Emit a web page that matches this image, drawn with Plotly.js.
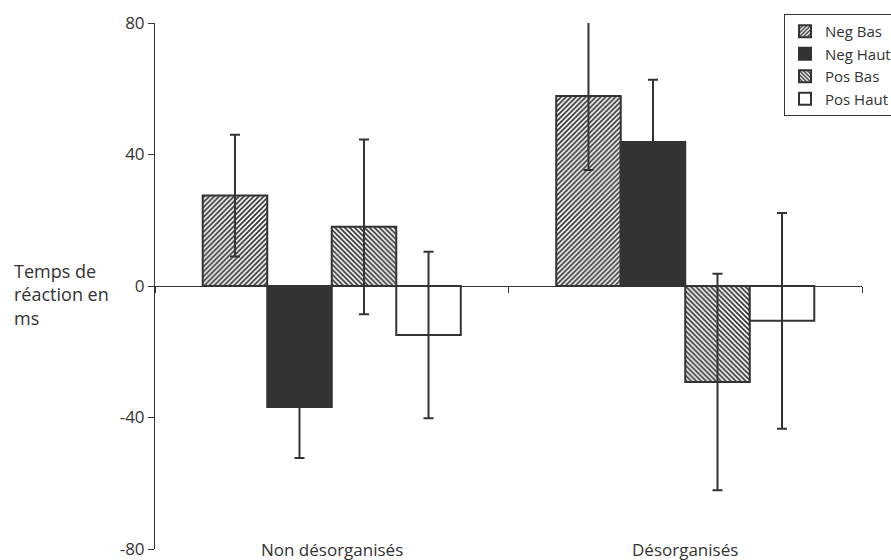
<!DOCTYPE html>
<html>
<head>
<meta charset="utf-8">
<script src="https://cdn.plot.ly/plotly-3.0.1.min.js"></script>
<style>html,body{margin:0;padding:0;background:#fff}#chart{width:891px;height:560px}</style>
</head>
<body>
<div id="chart"></div>
<script>
const categories = ["Non désorganisés", "Désorganisés"];
const seriesNames = ["Neg Bas", "Neg Haut", "Pos Bas", "Pos Haut"];
const negBas = [27.5, 57.8];
const negBasErr = [18.5, 22.5];
const negHaut = [-36.8, 43.8];
const negHautErr = [15.5, 18.9];
const posBas = [18.0, -29.2];
const posBasErr = [26.6, 32.9];
const posHaut = [-14.9, -10.6];
const posHautErr = [25.3, 32.8];
const yTicks = [-80, -40, 0, 40, 80];
const yTitle = "Temps de<br>réaction en<br>ms";

const dark = "#333333";
const values = [negBas, negHaut, posBas, posHaut];
const errs = [negBasErr, negHautErr, posBasErr, posHautErr];
const markers = [
  {color: "#ffffff", pattern: {shape: "/", fgcolor: dark, bgcolor: "#ffffff", size: 3.5, solidity: 0.5}},
  {color: dark},
  {color: "#ffffff", pattern: {shape: "\\", fgcolor: dark, bgcolor: "#ffffff", size: 3.5, solidity: 0.5}},
  {color: "#ffffff"}
];

const data = seriesNames.map((name, i) => ({
  type: "bar",
  name: name,
  x: categories,
  y: values[i],
  marker: Object.assign({line: {color: dark, width: 2}}, markers[i]),
  error_y: {type: "data", array: errs[i], visible: true, color: dark, thickness: 2, width: 5}
}));

const layout = {
  width: 891, height: 560,
  margin: {l: 155, r: 29, t: 23, b: 11, autoexpand: false},
  paper_bgcolor: "#ffffff", plot_bgcolor: "#ffffff",
  font: {family: "Open Sans, sans-serif", color: dark},
  barmode: "group", bargap: 0.27, bargroupgap: 0,
  showlegend: true,
  legend: {
    x: 0.8897, y: 1.017, xanchor: "left", yanchor: "top",
    bordercolor: dark, borderwidth: 1, bgcolor: "#ffffff",
    font: {size: 15, color: dark}, tracegroupgap: 0, itemwidth: 30
  },
  xaxis: {
    type: "category", categoryarray: categories, range: [-0.5, 1.5],
    anchor: "free", position: 0.5,
    showline: true, linecolor: dark, linewidth: 1,
    ticks: "outside", tickson: "boundaries", ticklen: 6, tickcolor: dark,
    showticklabels: false, showgrid: false, zeroline: false
  },
  yaxis: {
    range: [-80, 80], tickvals: yTicks, ticktext: yTicks.map(String),
    showline: true, linecolor: dark, linewidth: 1,
    ticks: "outside", ticklen: 6, tickcolor: dark,
    tickfont: {size: 17, color: dark},
    showgrid: false, zeroline: false
  },
  annotations: categories.map(c => ({
    x: c, xref: "x", y: yTicks[0], yref: "y", yanchor: "middle",
    text: c, showarrow: false, font: {size: 17, color: dark}
  })).concat([{
    x: -0.2023, xref: "paper", xanchor: "left", y: 0, yref: "y", yanchor: "middle", yshift: -8,
    text: yTitle, align: "left", showarrow: false, font: {size: 18, color: dark}
  }])
};

Plotly.newPlot("chart", data, layout, {displayModeBar: false, staticPlot: true});
</script>
</body>
</html>
